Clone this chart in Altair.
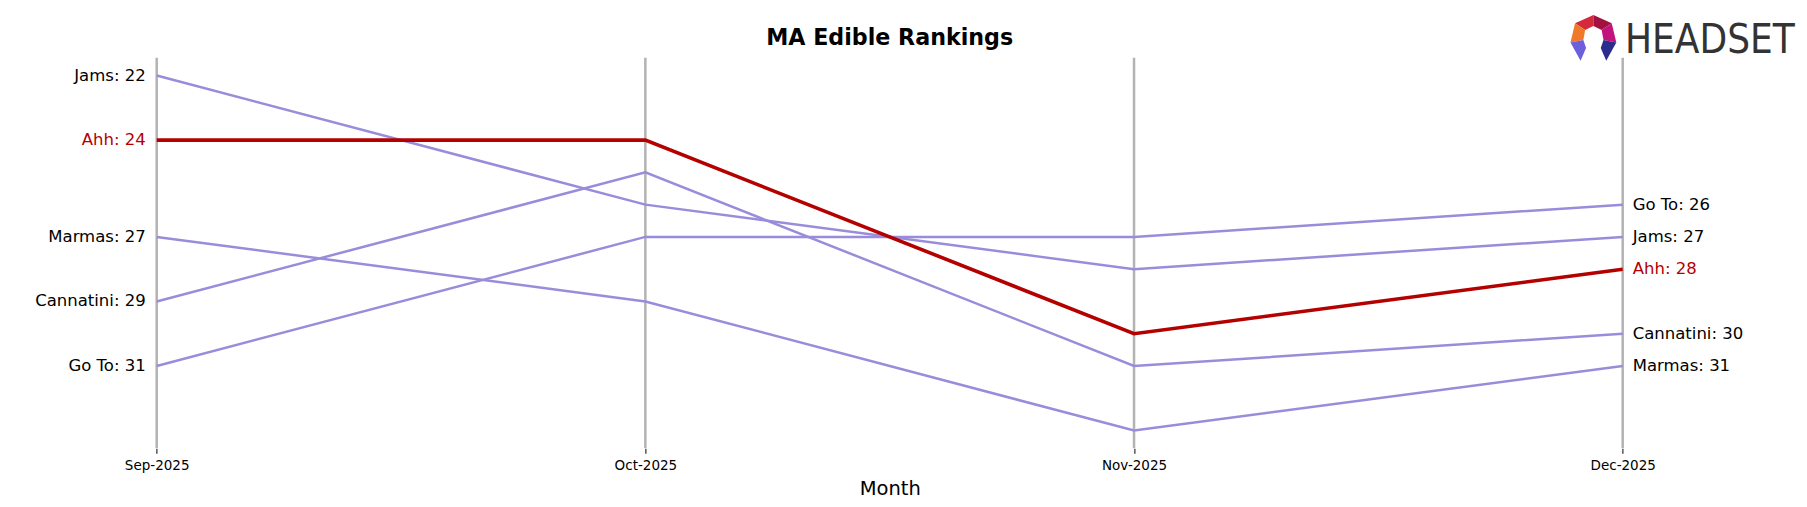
import altair as alt
import pandas as pd

title_text = "MA Edible Rankings"
months = ["Sep-2025", "Oct-2025", "Nov-2025", "Dec-2025"]
brands = ["Jams", "Ahh", "Marmas", "Cannatini", "Go To"]
ranks = {
    "Jams": [22, 26, 28, 27],
    "Ahh": [24, 24, 30, 28],
    "Marmas": [27, 29, 33, 31],
    "Cannatini": [29, 25, 31, 30],
    "Go To": [31, 27, 27, 26],
}
highlight = "Ahh"

RED = "#b50000"
PURPLE = "#998ddb"
GRAY = "#b3b3b3"

rows = []
for b in brands:
    for i, m in enumerate(months):
        rows.append({"brand": b, "month": m, "rank": ranks[b][i],
                     "label": f"{b}: {ranks[b][i]}",
                     "hl": b == highlight})
df = pd.DataFrame(rows)
mdf = pd.DataFrame({"month": months})

W, H = 1612.6, 390.5
FONT = "DejaVu Sans"

x_enc = alt.X("month:O", sort=months, scale=alt.Scale(type="point", padding=0.15),
              axis=alt.Axis(title="Month", labelAngle=0, domain=False, grid=False,
                            ticks=True, tickColor="black", tickSize=5, tickWidth=1,
                            labelFont=FONT, labelFontSize=13.5, labelColor="black",
                            labelPadding=5, titleFont=FONT, titleFontSize=19.5,
                            titleFontWeight="normal", titleColor="black", titlePadding=8))
y_enc = alt.Y("rank:Q", scale=alt.Scale(domain=[21.45, 33.55], reverse=True, zero=False, nice=False),
              axis=None)

base = alt.Chart(df)

vrules = alt.Chart(mdf).mark_rule(color=GRAY, strokeWidth=2.5).encode(x=x_enc)

others = base.transform_filter("!datum.hl").mark_line(color=PURPLE, strokeWidth=2.5).encode(
    x=x_enc, y=y_enc, detail="brand:N")
hl_line = base.transform_filter("datum.hl").mark_line(color=RED, strokeWidth=3.6).encode(
    x=x_enc, y=y_enc)

lab_color = alt.condition("datum.hl", alt.value(RED), alt.value("black"))
left_lab = base.transform_filter(f"datum.month == '{months[0]}'").mark_text(
    align="right", baseline="middle", dx=-11, font=FONT, fontSize=16.5).encode(
    x=x_enc, y=y_enc, text="label:N", color=lab_color)
right_lab = base.transform_filter(f"datum.month == '{months[-1]}'").mark_text(
    align="left", baseline="middle", dx=10, font=FONT, fontSize=16.5).encode(
    x=x_enc, y=y_enc, text="label:N", color=lab_color)

title = alt.Chart(pd.DataFrame({"t": [title_text]})).mark_text(
    align="center", baseline="alphabetic", font=FONT, fontSize=22.2, fontWeight="bold",
    color="black").encode(x=alt.value(W / 2), y=alt.value(-12.5), text="t:N")

# Logo (decoration): HEADSET wordmark + polygon icon
def P(pts):
    return "M " + " L ".join(f"{(px-50)/50:.3f} {(py-50)/50:.3f}" for px, py in pts) + " Z"

logo_paths = [
    P([(50, 0), (10, 18), (32, 33), (50, 24)]),
    P([(50, 0), (90, 18), (68, 33), (50, 24)]),
    P([(10, 18), (0, 60), (28, 55), (32, 33)]),
    P([(90, 18), (100, 60), (72, 55), (68, 33)]),
    P([(0, 60), (28, 55), (34, 72), (22, 100)]),
    P([(100, 60), (72, 55), (66, 72), (78, 100)]),
]
logo_colors = ["#d42a3c", "#a3123f", "#f0782a", "#c2147c", "#6b5fdc", "#2b2d8c"]
logo_df = pd.DataFrame({"path": logo_paths, "c": logo_colors})
icon = alt.Chart(logo_df).mark_point(filled=True, opacity=1, size=2100).encode(
    x=alt.value(1510), y=alt.value(-20),
    shape=alt.Shape("path:N", scale=None, legend=None),
    color=alt.Color("c:N", scale=None, legend=None))
word = alt.Chart(pd.DataFrame({"t": ["HEADSET"]})).mark_text(
    align="left", baseline="alphabetic", font="DejaVu Sans Condensed, Roboto, sans-serif",
    fontSize=40, color="#333333").encode(x=alt.value(1541.6), y=alt.value(-4.5), text="t:N")

chart = alt.layer(vrules, others, hl_line, left_lab, right_lab, title, icon, word).properties(
    width=W, height=H,
    autosize=alt.AutoSizeParams(type="none"),
    padding={"left": 75.4, "top": 49.8, "right": 103, "bottom": 50.7},
).configure_view(stroke=None)

chart.save("out.html", embed_options={"renderer": "svg", "actions": False})
